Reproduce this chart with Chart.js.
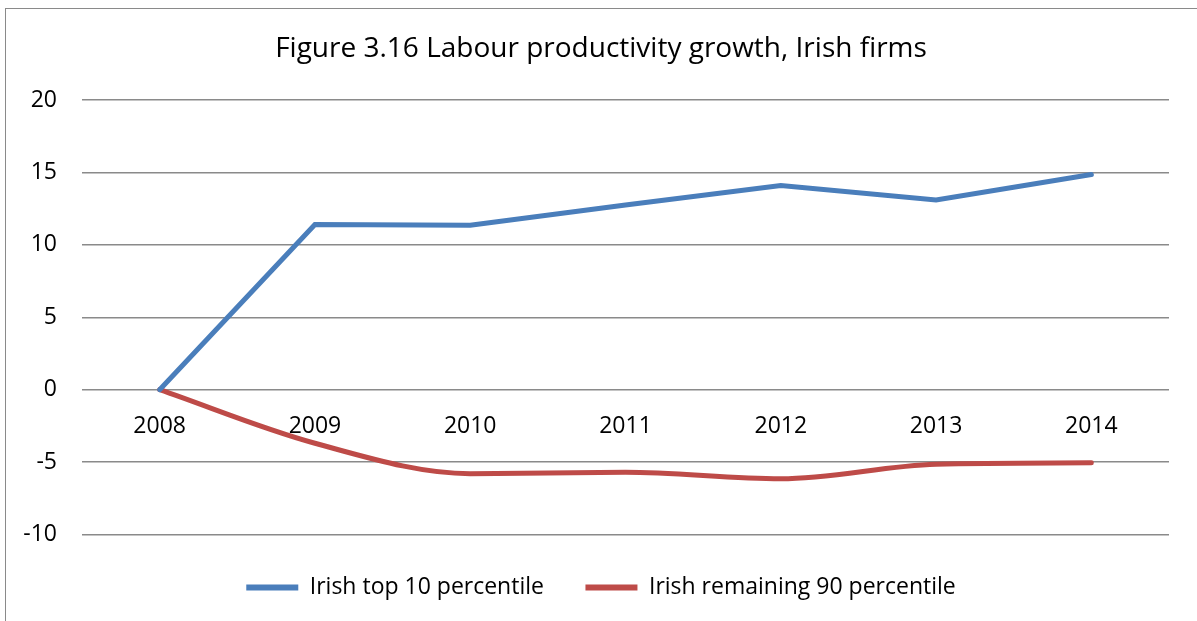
<!DOCTYPE html>
<html>
<head>
<meta charset="utf-8">
<script src="https://cdn.jsdelivr.net/npm/chart.js@4"></script>
<style>
    html, body { margin: 0; padding: 0; background: #fff; overflow: hidden; }
    .frame {
        position: absolute; left: 5px; top: 8px; width: 1192px; height: 613px;
        border-left: 1.5px solid #8a8a8a; border-top: 1.5px solid #8a8a8a;
        box-sizing: border-box; overflow: hidden;
    }
    .frame canvas { position: absolute; left: 0; top: 0; }
</style>
</head>
<body>
<div class="frame"><canvas id="chart-line" width="1190" height="600"></canvas></div>
<script>
const years = ['2008', '2009', '2010', '2011', '2012', '2013', '2014'];
const top10 = [0, 11.4, 11.35, 12.75, 14.1, 13.1, 14.85];
const remaining90 = [0, -3.7, -5.8, -5.7, -6.15, -5.15, -5.05];
const yTicks = [-10, -5, 0, 5, 10, 15, 20];

const FONT = "'Open Sans', 'Noto Sans', sans-serif";

const chartLine = document.querySelector('#chart-line');
const ctx = chartLine.getContext('2d');
new Chart(ctx, {
    type: 'line',
    data: {
        labels: years,
        datasets: [{
            label: 'Irish top 10 percentile',
            data: top10,
            borderColor: '#4a7ebb',
            backgroundColor: '#4a7ebb',
            borderWidth: 5,
            pointRadius: 0,
            tension: 0,
            borderCapStyle: 'round'
        }, {
            label: 'Irish remaining 90 percentile',
            data: remaining90,
            borderColor: '#be4b48',
            backgroundColor: '#be4b48',
            borderWidth: 5,
            pointRadius: 0,
            cubicInterpolationMode: 'monotone',
            borderCapStyle: 'round'
        }]
    },
    options: {
        responsive: false,
        animation: false,
        layout: { padding: 0 },
        plugins: {
            title: {
                display: true,
                text: 'Figure 3.16 Labour productivity growth, Irish firms',
                color: '#000',
                font: { family: FONT, size: 28, weight: 'normal' },
                padding: { top: 23, bottom: 34.4 }
            },
            legend: {
                position: 'bottom',
                labels: {
                    color: '#000',
                    font: { family: FONT, size: 23 },
                    boxWidth: 52,
                    boxHeight: 6,
                    padding: 41.5,
                    // plain filled bar for each series, no outline
                    generateLabels: chart => Chart.defaults.plugins.legend.labels.generateLabels(chart)
                        .map(item => ({ ...item, lineWidth: 0 }))
                }
            },
            tooltip: { enabled: false }
        },
        scales: {
            x: {
                position: { y: 0 },
                offset: true,
                grid: { display: false, drawTicks: false },
                border: { display: false },
                ticks: { color: '#000', font: { family: FONT, size: 23 }, padding: 22.5, maxRotation: 0 }
            },
            y: {
                min: -10,
                max: 20,
                afterBuildTicks: axis => { axis.ticks = yTicks.map(v => ({ value: v })); },
                afterFit: axis => { axis.width = 76; },
                grid: { color: '#8a8a8a', lineWidth: 1.5, drawTicks: false },
                border: { display: false },
                ticks: { color: '#000', font: { family: FONT, size: 23 }, padding: 25 }
            },
            // empty margin on the right of the plot area
            yRight: {
                position: 'right',
                grid: { display: false, drawTicks: false },
                border: { display: false },
                ticks: { display: false },
                afterFit: axis => { axis.width = 27; }
            }
        }
    }
});
</script>
</body>
</html>
